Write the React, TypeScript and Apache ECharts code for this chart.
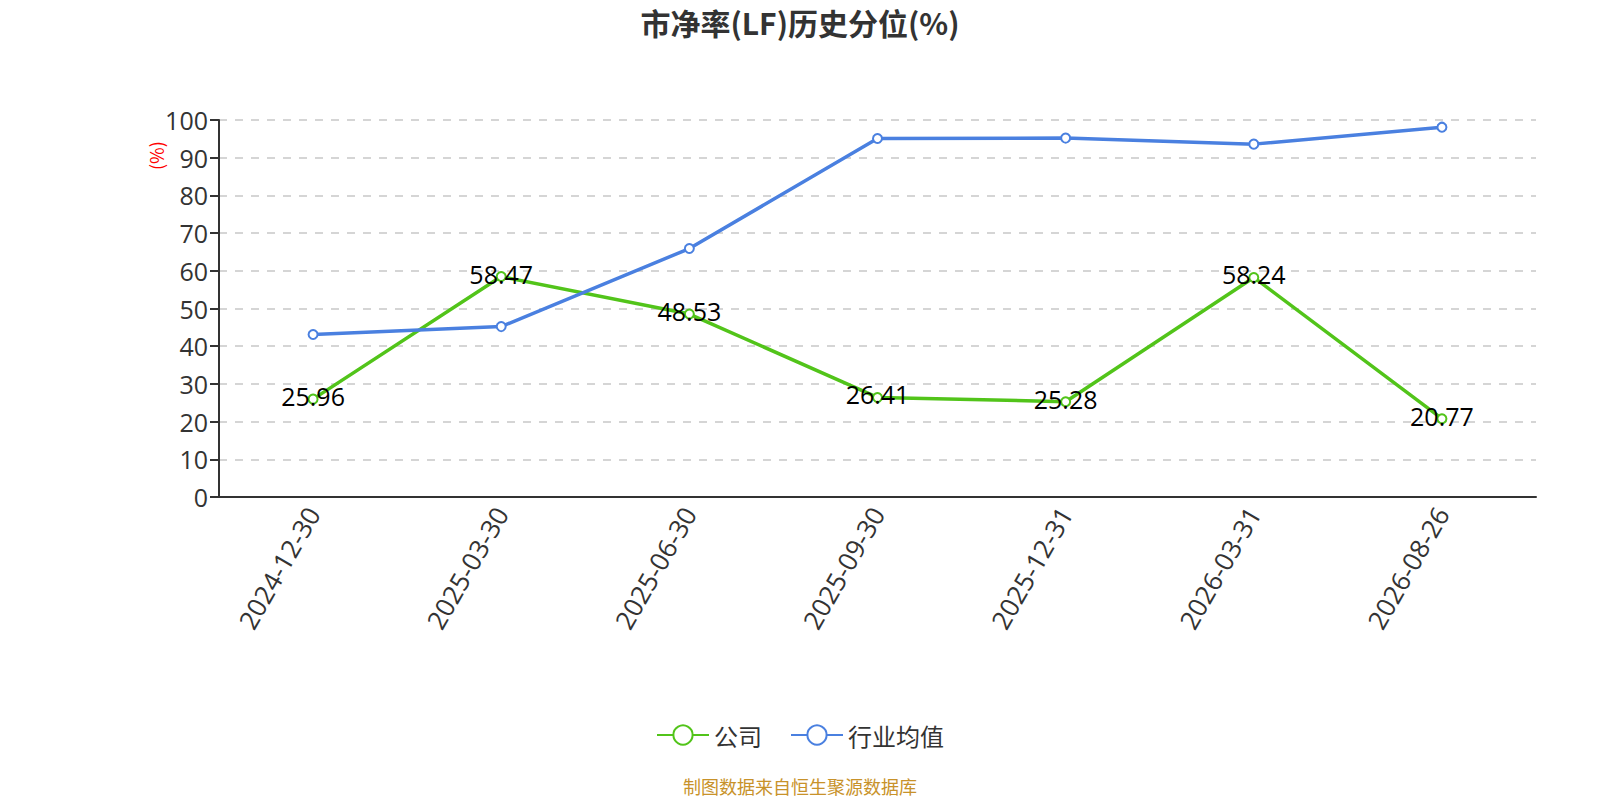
import React, { useEffect, useRef } from "react";
import * as echarts from "echarts";

const categories = ["2024-12-30", "2025-03-30", "2025-06-30", "2025-09-30", "2025-12-31", "2026-03-31", "2026-08-26"];
const companyValues = [25.96, 58.47, 48.53, 26.41, 25.28, 58.24, 20.77];
const industryValues = [43.1, 45.2, 65.9, 95.1, 95.2, 93.6, 98.1];
const seriesNames = ["公司", "行业均值"];

export default function App() {
  const ref = useRef<HTMLDivElement>(null);
  useEffect(() => {
    document.body.style.margin = "0";
    const chart = echarts.init(ref.current!, null, { renderer: "svg" });
    const font = "'Open Sans', 'Noto Sans CJK SC', sans-serif";
    const cjk = "'Noto Sans CJK SC', 'Open Sans', sans-serif";
    chart.setOption({
      animation: false,
      textStyle: { fontFamily: font },
      title: {
        text: "市净率(LF)历史分位(%)",
        left: "center",
        top: 2,
        textStyle: { fontSize: 30, fontWeight: "bold", color: "#333", fontFamily: cjk },
      },
      legend: {
        bottom: 48,
        left: "center",
        itemWidth: 52,
        itemHeight: 24,
        itemGap: 28,
        textStyle: { fontSize: 24, color: "#333", fontFamily: cjk },
        data: seriesNames,
      },
      grid: { left: 219, right: 64, top: 120, bottom: 303 },
      xAxis: {
        type: "category",
        data: categories,
        boundaryGap: true,
        axisLine: { lineStyle: { color: "#333", width: 2 } },
        axisTick: { lineStyle: { color: "#333", width: 2 }, length: 6 },
        axisLabel: { rotate: 60, fontSize: 26, color: "#333", margin: 12, fontFamily: font },
      },
      yAxis: {
        type: "value",
        min: 0,
        max: 100,
        interval: 10,
        axisLine: { show: true, lineStyle: { color: "#333", width: 2 } },
        axisTick: { show: true, lineStyle: { color: "#333", width: 2 }, length: 9 },
        axisLabel: { fontSize: 25, color: "#333", margin: 11, fontFamily: font },
        splitLine: { lineStyle: { type: [8, 8], color: "#c8c8c8", width: 1.5 } },
      },
      graphic: [
        {
          type: "text",
          x: 147,
          y: 170,
          rotation: Math.PI / 2,
          style: { text: "(%)", fill: "#ff0000", fontSize: 18, fontFamily: cjk },
        },
        {
          type: "text",
          left: "center",
          top: 777,
          style: { text: "制图数据来自恒生聚源数据库", fill: "#c8922a", fontSize: 18, fontFamily: cjk },
        },
      ],
      series: [
        {
          name: seriesNames[0],
          type: "line",
          data: companyValues,
          symbol: "emptyCircle",
          symbolSize: 9,
          lineStyle: { color: "#52c41a", width: 3.5 },
          itemStyle: { color: "#52c41a", borderWidth: 2 },
          label: { show: true, position: "inside", offset: [0, -3], fontSize: 25, color: "#000", fontFamily: font },
        },
        {
          name: seriesNames[1],
          type: "line",
          data: industryValues,
          symbol: "emptyCircle",
          symbolSize: 9,
          lineStyle: { color: "#4a80e0", width: 3.5 },
          itemStyle: { color: "#4a80e0", borderWidth: 2 },
        },
      ],
    });
    return () => chart.dispose();
  }, []);
  return <div ref={ref} style={{ width: 1600, height: 800 }} />;
}
